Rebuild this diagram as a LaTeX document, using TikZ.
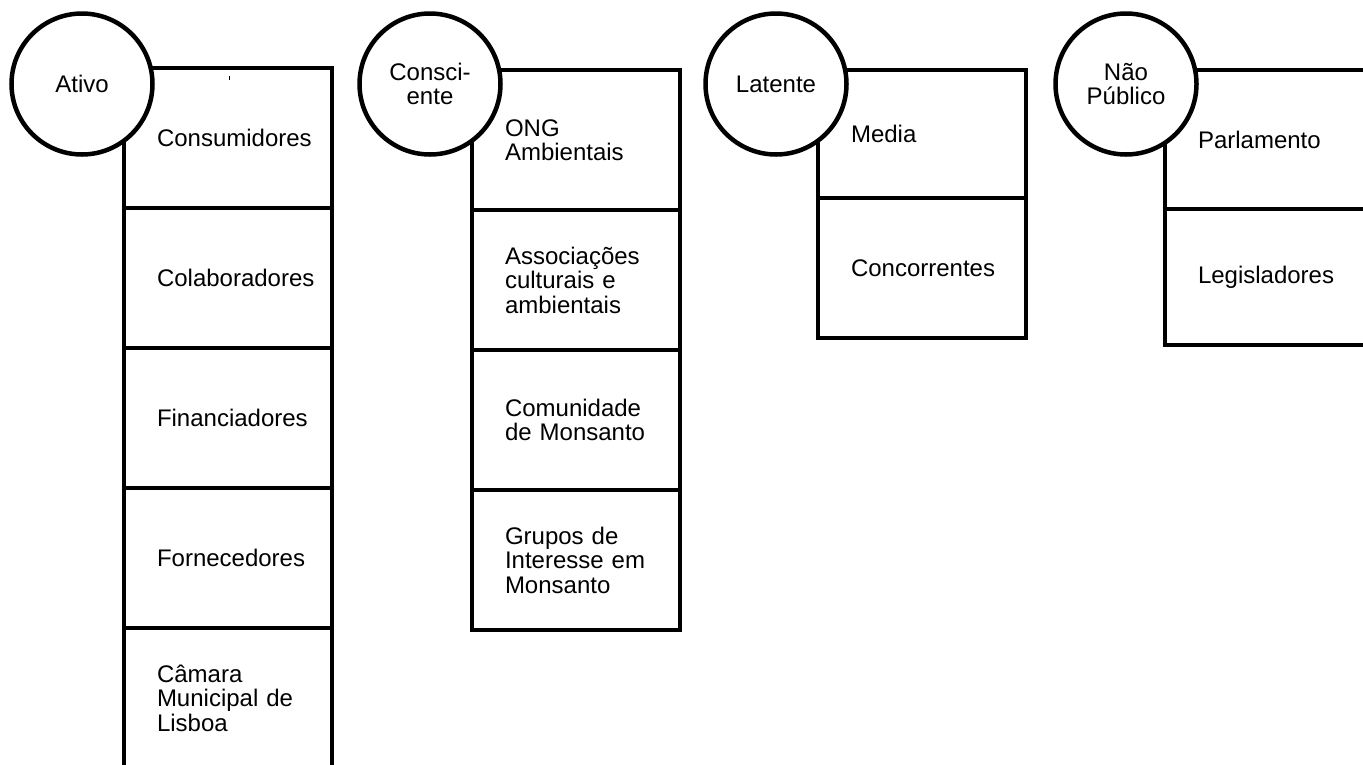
\documentclass[tikz,border=0pt]{standalone}
\usepackage{fontspec}
\setmainfont{Liberation Sans}
\usetikzlibrary{positioning}
\newcommand{\lblfont}{\fontsize{24}{24.5}\selectfont}
\tikzset{
	grp/.style={circle,draw,line width=4.5pt,fill=white,
		minimum size=141pt,inner sep=0pt,align=center,font=\lblfont},
	stake/.style={draw,line width=4.5pt,outer sep=0pt,
		minimum width=208pt,minimum height=#1,
		text width=142pt,inner xsep=33pt,align=left,font=\lblfont},
	stake/.default=140pt
}

\begin{document}
\begin{tikzpicture}[x=1pt,y=-1pt]
	\clip (0,0) rectangle (1363,764);
	% Ativo
	\node[stake,anchor=north west] (at1) at (124,68) {Consumidores};
	\node[stake,below=0pt of at1] (at2) {Colaboradores};
	\node[stake,below=0pt of at2] (at3) {Financiadores};
	\node[stake,below=0pt of at3] (at4) {Fornecedores};
	\node[stake,below=0pt of at4] (at5) {Câmara\\Municipal de\\Lisboa};
	\draw[line width=0.7pt] (229,76) -- (229,80);
	\node[grp] (ativo) at (82,84) {Ativo};
	% Consciente
	\node[stake,anchor=north west] (co1) at (472,70) {ONG\\Ambientais};
	\node[stake,below=0pt of co1] (co2) {Associações\\culturais e\\ambientais};
	\node[stake,below=0pt of co2] (co3) {Comunidade\\de Monsanto};
	\node[stake,below=0pt of co3] (co4) {Grupos de\\Interesse em\\Monsanto};
	\node[grp] (consc) at (430,84) {Consci-\\ente};
	% Latente
	\node[stake=128pt,anchor=north west] (la1) at (818,70) {Media};
	\node[stake,below=0pt of la1] (la2) {Concorrentes};
	\node[grp] (latente) at (776,84) {Latente};
	% Nao publico
	\node[stake=139pt,anchor=north west] (np1) at (1165,70) {Parlamento};
	\node[stake=136pt,below=0pt of np1] (np2) {Legisladores};
	\node[grp] (naopub) at (1126,84) {Não\\Público};
\end{tikzpicture}
\end{document}
